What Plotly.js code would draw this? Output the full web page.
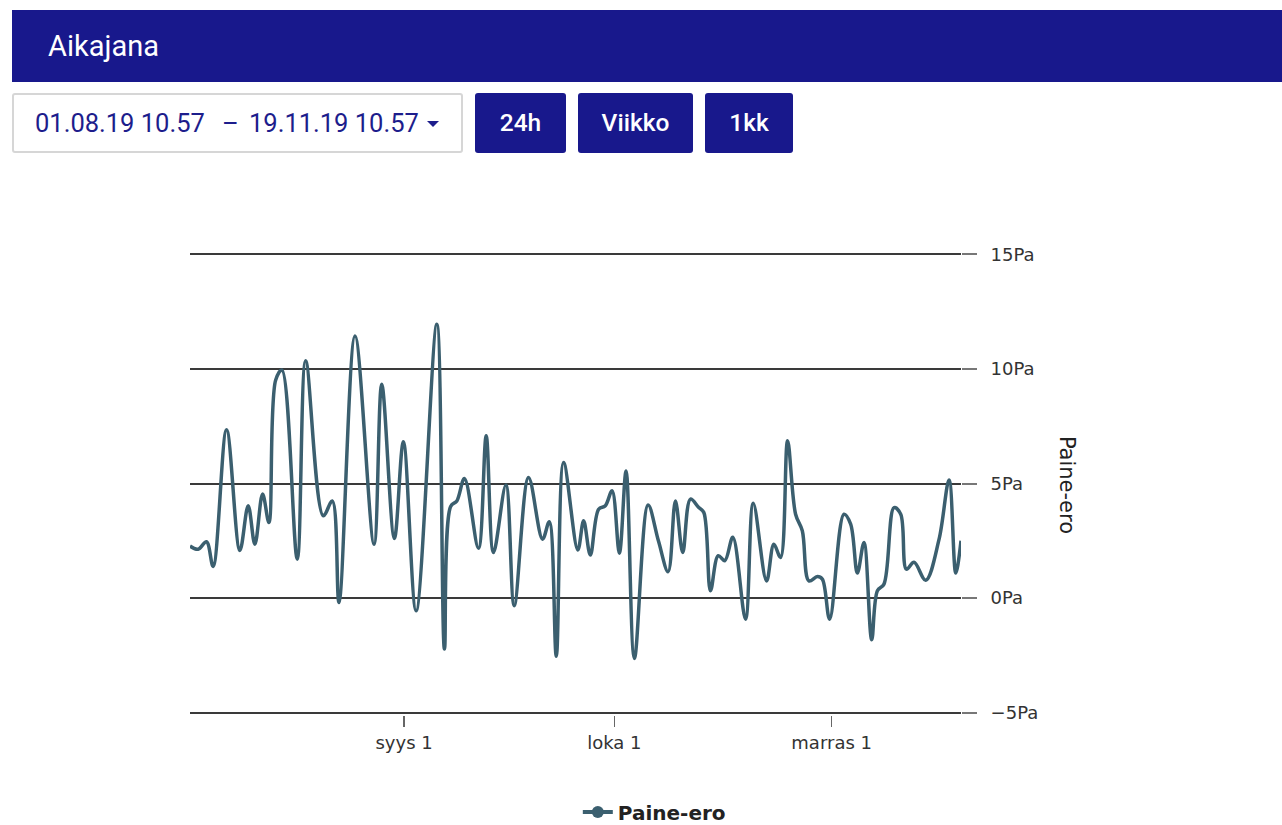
<!DOCTYPE html>
<html>
<head>
<meta charset="utf-8">
<script src="https://cdn.plot.ly/plotly-3.0.1.min.js"></script>
<style>
  html, body { margin:0; padding:0; background:#fff; width:1282px; height:825px; overflow:hidden; }
  #chart { position:absolute; left:0; top:0; width:1282px; height:825px; z-index:0; }
  .ui { position:absolute; z-index:2; font-family: Roboto, "Noto Sans", sans-serif; box-sizing:border-box; }
  #header { left:12px; top:10px; width:1270px; height:72px; background:#18188c; color:#fff; font-size:29px; line-height:72px; padding-left:36px; }
  #range { left:12px; top:93px; width:451px; height:60px; border:2px solid #d6d6d6; border-radius:3px; background:#fff; color:#1d1d8c; font-size:25.5px; }
  #range span { position:absolute; top:0; line-height:56px; white-space:nowrap; }
  #caret { position:absolute; left:413px; top:26px; width:0; height:0; border-left:6px solid transparent; border-right:6px solid transparent; border-top:6px solid #1d1d8c; }
  .btn { top:93px; height:60px; background:#18188c; color:#fff; border-radius:3px; font-size:24.5px; font-weight:500; line-height:60px; text-align:center; }
</style>
</head>
<body>
<div id="chart"></div>
<div id="header" class="ui">Aikajana</div>
<div id="range" class="ui"><span style="left:21px">01.08.19 10.57</span><span style="left:208px">–</span><span style="left:235px">19.11.19 10.57</span><div id="caret"></div></div>
<div class="ui btn" style="left:475px;width:91px">24h</div>
<div class="ui btn" style="left:578px;width:115px">Viikko</div>
<div class="ui btn" style="left:705px;width:88px">1kk</div>
<script>
const dates = [
 "2019-08-01 10:57","2019-08-02 14:44","2019-08-03 19:32","2019-08-04 18:10","2019-08-06 16:06",
 "2019-08-08 13:42","2019-08-09 18:10","2019-08-10 17:08","2019-08-11 19:32","2019-08-12 17:08",
 "2019-08-13 16:06","2019-08-14 13:42","2019-08-16 18:10","2019-08-17 22:58","2019-08-20 11:18",
 "2019-08-21 18:10","2019-08-22 17:08","2019-08-25 00:00","2019-08-27 17:08","2019-08-28 19:32",
 "2019-08-30 14:44","2019-08-31 21:36","2019-09-02 17:08","2019-09-05 16:06","2019-09-06 18:10",
 "2019-09-07 15:26","2019-09-08 12:41","2019-09-09 14:44","2019-09-11 14:44","2019-09-12 17:08",
 "2019-09-13 18:10","2019-09-15 12:41","2019-09-16 17:08","2019-09-18 18:10","2019-09-20 18:10",
 "2019-09-21 17:08","2019-09-22 17:08","2019-09-23 18:10","2019-09-25 18:52","2019-09-26 14:44",
 "2019-09-27 13:42","2019-09-28 18:10","2019-09-29 17:08","2019-09-30 16:06","2019-10-01 17:08",
 "2019-10-02 16:06","2019-10-03 20:34","2019-10-05 19:32","2019-10-07 06:51","2019-10-08 16:06",
 "2019-10-09 17:08","2019-10-10 18:10","2019-10-11 20:34","2019-10-13 01:02","2019-10-13 18:10",
 "2019-10-14 17:08","2019-10-15 19:32","2019-10-16 18:10","2019-10-17 21:36","2019-10-19 17:08",
 "2019-10-20 19:32","2019-10-22 17:08","2019-10-23 18:10","2019-10-24 17:08","2019-10-25 17:08",
 "2019-10-26 20:34","2019-10-27 19:32","2019-10-28 18:10","2019-10-29 22:58","2019-10-30 16:06",
 "2019-10-31 17:08","2019-11-02 18:10","2019-11-03 17:08","2019-11-04 16:06","2019-11-05 14:44",
 "2019-11-06 17:08","2019-11-07 12:41","2019-11-08 11:18","2019-11-09 21:36","2019-11-10 20:34",
 "2019-11-11 16:06","2019-11-12 18:10","2019-11-14 10:17","2019-11-16 07:54","2019-11-17 18:10",
 "2019-11-18 17:08","2019-11-19 10:57"
];
const paineEro = [
 2.27, 2.13, 2.46, 1.38, 7.35,
 2.08, 4.03, 2.35, 4.54, 3.30,
 9.50, 9.95, 1.70, 10.35, 3.59,
 4.24, -0.19, 11.44, 2.35, 9.33,
 2.60, 6.82, -0.55, 11.95, -2.22,
 4.00, 4.24, 5.22, 2.17, 7.08,
 1.99, 4.93, -0.33, 5.26, 2.57,
 3.33, -2.54, 5.92, 2.10, 3.37,
 1.88, 3.88, 4.03, 4.68, 1.96,
 5.55, -2.63, 4.06, 2.50, 1.15,
 4.24, 1.99, 4.32, 3.95, 3.74,
 0.32, 1.85, 1.63, 2.65, -0.92,
 4.14, 0.75, 2.35, 1.77, 6.86,
 3.66, 2.94, 0.75, 0.94, 0.83,
 -0.92, 3.66, 3.23, 1.09, 2.43,
 -1.82, 0.32, 0.61, 3.95, 3.66,
 1.26, 1.56, 0.78, 2.57, 5.15,
 1.09, 2.50
];
const xTickVals = ["2019-09-01", "2019-10-01", "2019-11-01"];
const xTickText = ["syys 1", "loka 1", "marras 1"];
const yTickVals = [-5, 0, 5, 10, 15];
const yTickText = ["\u22125Pa", "0Pa", "5Pa", "10Pa", "15Pa"];
const seriesName = "Paine-ero";
const lineColor = "#3b5f6f";

const traces = [
  { x: dates, y: paineEro, type: "scatter", mode: "lines", name: seriesName,
    line: { color: lineColor, width: 3.5, shape: "spline", smoothing: 1 },
    showlegend: false, hoverinfo: "skip" },
  { x: [null], y: [null], type: "scatter", mode: "lines+markers", name: seriesName,
    line: { color: lineColor, width: 4 }, marker: { color: lineColor, size: 12 },
    showlegend: true }
];

const layout = {
  width: 1282, height: 825,
  margin: { l: 190, r: 321, t: 252, b: 110, autoexpand: false },
  paper_bgcolor: "rgba(0,0,0,0)", plot_bgcolor: "rgba(0,0,0,0)",
  font: { family: "DejaVu Sans, sans-serif", size: 18, color: "#333" },
  xaxis: {
    type: "date", range: [dates[0], dates[dates.length - 1]],
    showgrid: false, zeroline: false, showline: false,
    tickmode: "array", tickvals: xTickVals, ticktext: xTickText,
    ticks: "outside", ticklen: 11, tickwidth: 1.5, tickcolor: "#666",
    ticklabelstandoff: 0,
    tickfont: { family: "DejaVu Sans, sans-serif", size: 18, color: "#333" }
  },
  yaxis: {
    side: "right", range: [-5.1, 15.1], tickmode: "array", tickvals: yTickVals, ticktext: yTickText,
    showgrid: true, gridcolor: "#3a3a3a", gridwidth: 2,
    zeroline: false, showline: false,
    ticks: "outside", ticklen: 15, tickwidth: 2, tickcolor: "#777",
    ticklabelstandoff: 10,
    tickfont: { family: "DejaVu Sans, sans-serif", size: 18, color: "#333" }
  },
  showlegend: true,
  legend: { orientation: "h", x: 0.503, xanchor: "left", y: -0.2095, yanchor: "middle",
    font: { family: "DejaVu Sans, sans-serif", size: 20, color: "#222", weight: "bold" },
    itemwidth: 30 },
  annotations: [{
    text: "Paine-ero", xref: "paper", yref: "paper", x: 1.1375, y: 0.497,
    showarrow: false, textangle: 90, xanchor: "center", yanchor: "middle",
    font: { family: "DejaVu Sans, sans-serif", size: 21, color: "#222" }
  }]
};

Plotly.newPlot("chart", traces, layout, { displayModeBar: false, staticPlot: true });
</script>
</body>
</html>
